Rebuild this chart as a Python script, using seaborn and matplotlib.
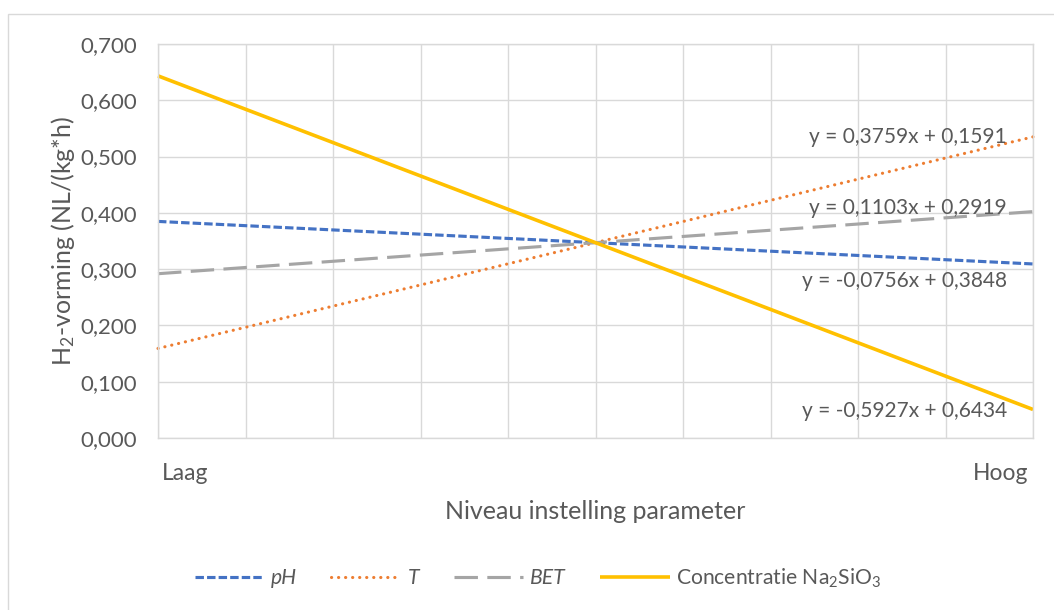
import matplotlib
matplotlib.use("Agg")
import matplotlib.pyplot as plt
import matplotlib.ticker as mticker
from matplotlib.patches import Rectangle
import numpy as np
import pandas as pd
import seaborn as sns

# Trendlines per parameter: y = slope * x + intercept, x from Laag (0) to Hoog (1)
series = ["pH", "T", "BET", "Concentratie Na$_2$SiO$_3$"]
slopes = [-0.0756, 0.3759, 0.1103, -0.5927]
intercepts = [0.3848, 0.1591, 0.2919, 0.6434]
equations = ["y = -0,0756x + 0,3848", "y = 0,3759x + 0,1591",
             "y = 0,1103x + 0,2919", "y = -0,5927x + 0,6434"]
label_y = [0.279, 0.535, 0.409, 0.048]
x_levels = [0.0, 1.0]
x_ticklabels = ["Laag", "Hoog"]

colors = ["#4472C4", "#ED7D31", "#A5A5A5", "#FFC000"]
styles = [(0, (2.7, 1.0)), (0, (0.05, 2.2)), (0, (7.5, 3.0)), "-"]
widths = [2.25, 2.25, 2.25, 2.6]
caps = ["butt", "round", "butt", "butt"]

sns.set_theme(style="white")
plt.rcParams["font.family"] = ["Lato", "DejaVu Sans"]
plt.rcParams["mathtext.fontset"] = "custom"
plt.rcParams["mathtext.rm"] = "Lato"
plt.rcParams["mathtext.it"] = "Lato:italic"

txt = "#595959"
grid = "#D9D9D9"

fig = plt.figure(figsize=(10.54, 6.10), dpi=100)
fig.patches.append(Rectangle((8 / 1054, -0.1), 1.2, 1 - 14 / 610 + 0.1,
                             transform=fig.transFigure, fill=False,
                             edgecolor=grid, linewidth=1.0))
ax = fig.add_axes([158 / 1054, 1 - 438 / 610, (1033 - 158) / 1054, (438 - 44) / 610])

rows = []
for name, m, b in zip(series, slopes, intercepts):
    for x in x_levels:
        rows.append({"x": x, "y": m * x + b, "serie": name})
df = pd.DataFrame(rows)

for name, c, ls, lw, cap in zip(series, colors, styles, widths, caps):
    sub = df[df["serie"] == name]
    sns.lineplot(data=sub, x="x", y="y", ax=ax, color=c, linewidth=lw,
                 label=name, clip_on=False)
    line = ax.get_lines()[-1]
    line.set_linestyle(ls)
    line.set_dash_capstyle(cap)
    line.set_solid_capstyle("butt")

for eq, yy in zip(equations, label_y):
    ax.text(0.97, yy, eq, ha="right", va="center", fontsize=15, color=txt)

ax.set_xlim(0, 1)
ax.set_ylim(0, 0.7)
ax.set_yticks(np.arange(0, 0.71, 0.1))
ax.yaxis.set_major_formatter(mticker.FuncFormatter(lambda v, p: f"{v:.3f}".replace(".", ",")))
ax.set_xticks(np.linspace(0, 1, 11))
ax.set_xticklabels([])

# Category ends of the x axis, placed slightly inside the plot edges
for xv, lab, ha, dx in zip(x_levels, x_ticklabels, ["left", "right"], [4, -5]):
    ax.annotate(lab, xy=(xv, 0), xycoords=("data", "axes fraction"),
                xytext=(dx * 0.72, -18), textcoords="offset points",
                ha=ha, va="top", fontsize=16.5, color=txt)

ax.grid(True, color=grid, linewidth=1.0)
for s in ax.spines.values():
    s.set_color(grid)
    s.set_linewidth(1.0)
ax.tick_params(axis="both", length=0, labelsize=16, colors=txt)
ax.tick_params(axis="y", pad=15)

ax.set_xlabel("Niveau instelling parameter", fontsize=18, color=txt, labelpad=41)
ax.set_ylabel("H$_2$-vorming (NL/(kg*h)", fontsize=18, color=txt)
ax.yaxis.set_label_coords(-0.093, 0.5)

leg = ax.legend(loc="center", bbox_to_anchor=(538 / 1054, 1 - 578 / 610), bbox_transform=fig.transFigure,
                ncol=4, frameon=False, fontsize=15.2, handlelength=3.3, columnspacing=1.65,
                handletextpad=0.3)
for t in leg.get_texts():
    t.set_color(txt)
for t in leg.get_texts()[:3]:
    t.set_style("italic")

fig.savefig("out.png", dpi=100, facecolor="white")
